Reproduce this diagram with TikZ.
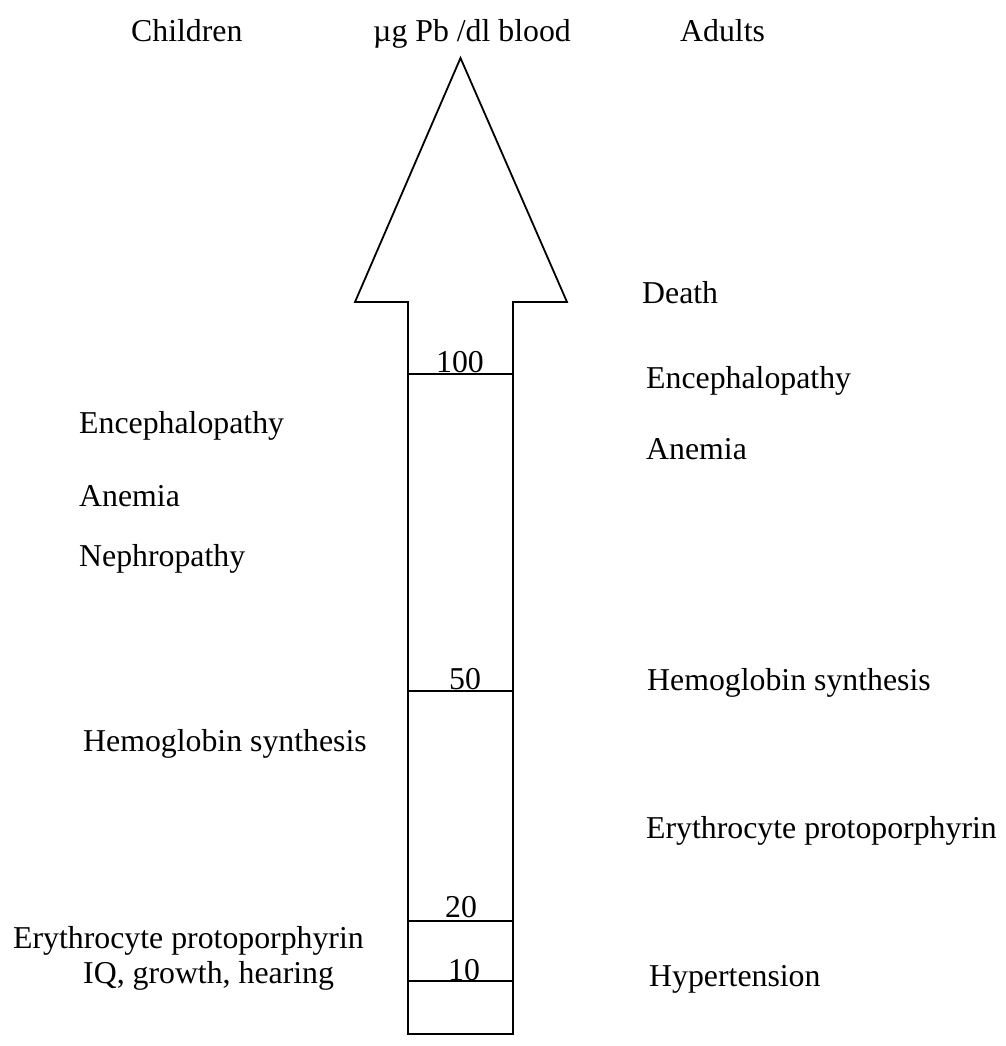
\documentclass[tikz,border=0pt]{standalone}
\usepackage{fontspec}
\setmainfont{Liberation Serif}
\begin{document}
\begin{tikzpicture}[x=1pt,y=-1pt,
  lbl/.style={anchor=base west,inner sep=0pt,font=\fontsize{31.8}{38}\selectfont},
  num/.style={anchor=base,inner sep=0pt,font=\fontsize{31.8}{38}\selectfont},
  outline/.style={draw=black,line width=1.8pt,line join=miter}]
\useasboundingbox (0,0) rectangle (1005,1046);
% arrow
\draw[outline] (408,1034) -- (408,302) -- (355,302) -- (460.5,58) -- (567,302) -- (513,302) -- (513,1034) -- cycle;
% ticks
\draw[outline] (407,374) -- (514,374);
\draw[outline] (407,691) -- (514,691);
\draw[outline] (407,921) -- (514,921);
\draw[outline] (407,981) -- (514,981);
% numbers
\node[num] (n100) at (460,372) {100};
\node[num] (n50) at (465,689) {50};
\node[num] (n20) at (461,917) {20};
\node[num] (n10) at (464,980) {10};
% headings
\node[lbl] (children) at (131,42) {Children};
\node[lbl] (units) at (373,42) {µg Pb /dl blood};
\node[lbl] (adults) at (680,42) {Adults};
% children
\node[lbl] (c1) at (79,433) {Encephalopathy};
\node[lbl] (c2) at (79,506) {Anemia};
\node[lbl] (c3) at (79,566) {Nephropathy};
\node[lbl] (c4) at (83,751) {Hemoglobin synthesis};
\node[lbl] (c5) at (13,948) {Erythrocyte protoporphyrin};
\node[lbl] (c6) at (83,983) {IQ, growth, hearing};
% adults
\node[lbl] (a1) at (642,303) {Death};
\node[lbl] (a2) at (646,388) {Encephalopathy};
\node[lbl] (a3) at (646,459) {Anemia};
\node[lbl] (a4) at (647,690) {Hemoglobin synthesis};
\node[lbl] (a5) at (646,838) {Erythrocyte protoporphyrin};
\node[lbl] (a6) at (649,986) {Hypertension};
\end{tikzpicture}
\end{document}
